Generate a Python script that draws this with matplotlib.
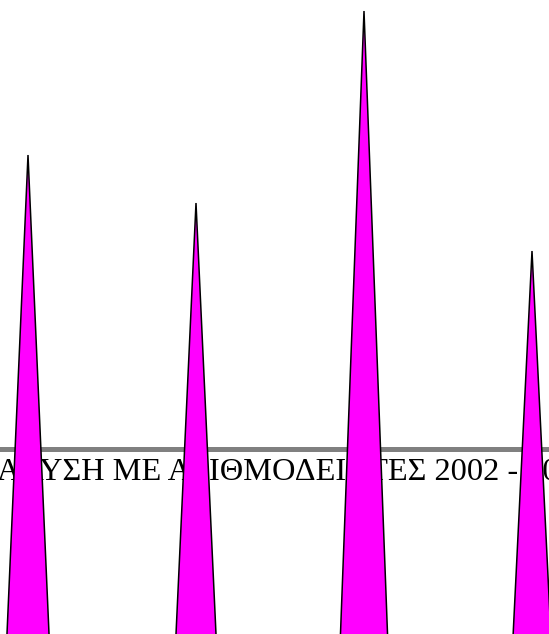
#!/usr/bin/env python3

import matplotlib
matplotlib.use('Agg')
import matplotlib.pyplot as plt
from matplotlib.patches import Polygon

# cone chart, cropped: only the upper part of the cones is visible
categories = ['1', '2', '3', '4']
values = [888, 840, 1032, 792]
title = 'ΑΝΑΛΥΣΗ ΜΕ ΑΡΙΘΜΟΔΕΙΚΤΕΣ 2002 - 2003'

W, H = 549, 634
DPI = 100


def main():
    fig = plt.figure(figsize=(W / DPI, H / DPI), dpi=DPI)
    fig.patch.set_facecolor('white')
    ax = fig.add_axes([0, 0, 1, 1])
    ax.set_axis_off()

    # visible window of the cut-off chart
    ax.set_xlim(-28 / 168, (W - 28) / 168)
    ax.set_ylim(409, 1043)

    # grey rule and title sit behind the cones
    ax.axhline(594.5, color='#808080', lw=5 * 72 / DPI, zorder=1)
    ax.text(0.5 - 4 / W, 1 - 480 / H, title, transform=ax.transAxes,
            ha='center', va='baseline', fontsize=23.3,
            family=['Liberation Serif', 'DejaVu Serif'],
            color='black', zorder=2, clip_on=False)

    half = 0.232
    for i, v in enumerate(values):
        tri = Polygon([(i - half, 0), (i + half, 0), (i, v)], closed=True,
                      facecolor='#ff00ff', edgecolor='black',
                      lw=1.1, joinstyle='miter', zorder=3)
        ax.add_patch(tri)

    fig.savefig('out.png', dpi=DPI, facecolor='white')
    plt.close(fig)


main()
